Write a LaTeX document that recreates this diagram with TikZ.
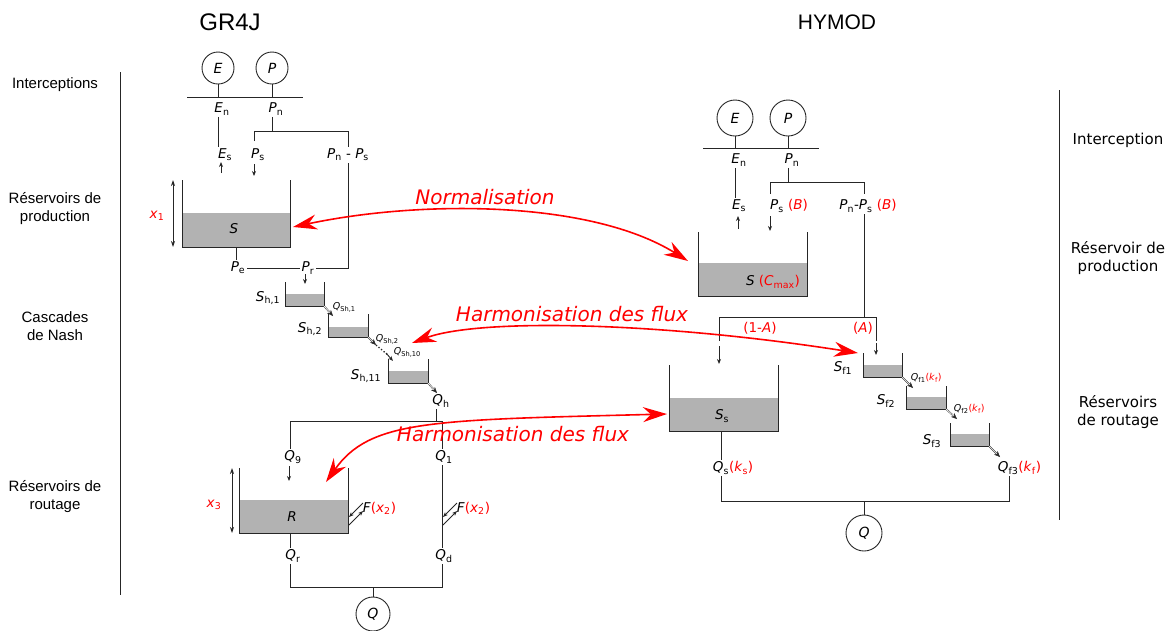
\documentclass[tikz,border=0pt]{standalone}
\usepackage{fontspec}
\setmainfont{DejaVu Sans}
\newfontfamily\arialfont{Liberation Sans}
\usetikzlibrary{arrows.meta}

% variable with upright index
\newcommand{\vx}[2]{\textit{#1}\textsubscript{#2}}
% open tank: x left, x right, y top, y water, y bottom
\newcommand{\tank}[5]{%
  \fill[gray!60] (#1,#5) rectangle (#2,#4);
  \draw (#1,#3) -- (#1,#5) -- (#2,#5) -- (#2,#3);}

\tikzset{
  lbl/.style={font=\fontsize{13.5}{15}\selectfont, inner sep=1.5pt},
  qlbl/.style={font=\fontsize{9.5}{11}\selectfont, inner sep=0.5pt, anchor=west},
  side/.style={font=\arialfont\fontsize{15}{18}\selectfont, align=center},
  sider/.style={font=\fontsize{15}{18}\selectfont, align=center},
  title/.style={font=\arialfont\fontsize{24}{26}\selectfont},
  redlbl/.style={red, font=\fontsize{20}{22}\selectfont\itshape},
  pool/.style={circle, draw, inner sep=0pt, font=\fontsize{14}{16}\selectfont\itshape},
  flow/.style={-{Stealth[length=5pt,width=4pt]}},
  dim/.style={{Stealth[length=6pt,width=4pt]}-{Stealth[length=6pt,width=4pt]}},
  casc/.style={double, double distance=0.7pt, line width=0.4pt, -{Stealth[length=6pt,width=5pt]}},
  redtip/.tip={Stealth[length=24pt,width=15pt,inset=8pt]},
  link/.style={red, line width=1.6pt, redtip-redtip},
}

\begin{document}
\begin{tikzpicture}[x=1pt, y=-1pt, line width=0.9pt, draw=black!85]
\useasboundingbox (0,0) rectangle (1167,630);

% titles and side labels
\node[title] (gr) at (230,22) {GR4J};
\node[title, font=\arialfont\fontsize{21}{24}\selectfont] (hy) at (837,22) {HYMOD};
\node[side] (l1) at (55,85) {Interceptions};
\node[side] (l2) at (55,209) {Réservoirs de\\production};
\node[side] (l3) at (55,326) {Cascades\\de Nash};
\node[side] (l4) at (55,497) {Réservoirs de\\routage};
\draw (120,72) -- (120,595);
\node[sider] (r1) at (1118,140) {Interception};
\node[sider] (r2) at (1118,258) {Réservoir de\\production};
\node[sider] (r3) at (1118,412) {Réservoirs\\de routage};
\draw (1059,90) -- (1059,520);

% GR4J interception
\node[pool, minimum size=32pt] (gE) at (218,68) {E};
\node[pool, minimum size=32pt] (gP) at (272,68) {P};
\draw (187,97) -- (303,97);
\draw (gE.south) -- (gE |- 0,97);
\draw (gP.south) -- (gP |- 0,97);
\node[lbl] (gEn) at (222,109) {\vx{E}{n}};
\node[lbl] (gPn) at (276,109) {\vx{P}{n}};
\node[lbl] (gEs) at (225,155) {\vx{E}{s}};
\node[lbl] (gPs) at (258,155) {\vx{P}{s}};
\node[lbl] (gPnPs) at (348,155) {\vx{P}{n} - \vx{P}{s}};
\draw (gE |- gEn.south) -- (gE |- gEs.north);
\draw (gP |- gPn.south) -- (gP |- 0,131);
\draw (254,141) |- (348,131) -- (gPnPs.north);
\draw[flow] (221,173) -- (221,162);
\draw[flow] (254,164) -- (254,176);

% GR4J production store
\tank{182}{290}{180}{213}{247}
\node[lbl] (gS) at (234,229) {\textit{S}};
\draw[dim] (173,180) -- (173,247);
\node[lbl, red] (gx1) at (157,216) {\vx{x}{1}};
\node[lbl] (gPe) at (238,268) {\vx{P}{e}};
\node[lbl] (gPr) at (308,268) {\vx{P}{r}};
\draw (236,247) -- (gPe.north -| 236,0);
\draw (gPe.east) -- (gPr.west);
\draw (gPr.east) -| (gPnPs.south);
\draw[flow] (305,274) -- (305,284);

% Nash cascade
\tank{285}{324}{282}{294}{306}
\node[lbl] (gSh1) at (268,298) {\vx{S}{h,1}};
\draw[casc] (324,306) -- (333,316);
\node[qlbl] (gQ1s) at (332,307) {\vx{Q}{Sh,1}};
\tank{328}{368}{314}{327}{337}
\node[lbl] (gSh2) at (310,329) {\vx{S}{h,2}};
\draw[casc] (368,337) -- (376,345);
\node[qlbl] (gQ2s) at (375,339) {\vx{Q}{Sh,2}};
\draw[dotted, line width=1.3pt] (376,345) -- (388,355);
\draw[flow] (386,353) -- (393,361);
\node[qlbl] (gQ10s) at (393,352) {\vx{Q}{Sh,10}};
\tank{388}{428}{359}{371}{383}
\node[lbl] (gSh11) at (366,376) {\vx{S}{h,11}};
\draw[casc] (428,383) -- (437,393);
\node[lbl] (gQh) at (441,401) {\vx{Q}{h}};

% GR4J routing
\node[lbl] (gQ9) at (293,457) {\vx{Q}{9}};
\node[lbl] (gQ1) at (444,457) {\vx{Q}{1}};
\draw (gQh.south -| 436,0) -- (436,421);
\draw (gQ9.north -| 290,0) |- (442,421) -- (gQ1.north -| 442,0);
\draw[flow] (289,466) -- (289,481);
\tank{239}{348}{468}{500}{533}
\node[lbl] (gR) at (292,517) {\textit{R}};
\draw[dim] (232,468) -- (232,533);
\node[lbl, red] (gx3) at (214,505) {\vx{x}{3}};
\draw[flow] (363,503) -- (349,517);
\draw[flow] (349,525) -- (363,511);
\node[lbl, anchor=west] (gF1) at (361,508) {\textit{F}\textcolor{red}{(\vx{x}{2})}};
\node[lbl] (gQd) at (444,556) {\vx{Q}{d}};
\draw (gQ1.south -| 442,0) -- (gQd.north -| 442,0);
\draw[flow] (457,503) -- (443,517);
\draw[flow] (443,525) -- (457,511);
\node[lbl, anchor=west] (gF2) at (455,508) {\textit{F}\textcolor{red}{(\vx{x}{2})}};
\node[lbl] (gQr) at (293,556) {\vx{Q}{r}};
\draw (290,533) -- (gQr.north -| 290,0);
\node[pool, minimum size=34pt] (gQ) at (373,614) {Q};
\draw (gQr.south -| 290,0) |- (442,587) -- (gQd.south -| 442,0);
\draw (gQ.north) -- (gQ |- 0,587);

% HYMOD interception
\node[pool, minimum size=36pt] (hE) at (735,118) {E};
\node[pool, minimum size=36pt] (hP) at (788,118) {P};
\draw (703,148) -- (819,148);
\draw (hE.south) -- (hE |- 0,148);
\draw (hP.south) -- (hP |- 0,148);
\node[lbl] (hEn) at (739,160) {\vx{E}{n}};
\node[lbl] (hPn) at (792,160) {\vx{P}{n}};
\node[lbl] (hEs) at (739,206) {\vx{E}{s}};
\node[lbl] (hPs) at (789,206) {\vx{P}{s} \textcolor{red}{(\textit{B})}};
\node[lbl] (hPnPs) at (868,206) {\vx{P}{n}-\vx{P}{s} \textcolor{red}{(\textit{B})}};
\draw (hE |- hEn.south) -- (hE |- hEs.north);
\draw (hP |- hPn.south) -- (hP |- 0,182);
\draw (770,194) |- (864,182) -- (864,194);
\draw[flow] (738,229) -- (738,216);
\draw[flow] (770,216) -- (770,231);

% HYMOD production store
\tank{698}{807}{232}{263}{296}
\node[lbl] (hS) at (773,282) {\textit{S} \textcolor{red}{(\vx{C}{max})}};
\draw (hPnPs.south -| 864,0) -- (864,317);
\draw (719,341) |- (876,317) -- (876,341);
\draw[flow] (719,346) -- (719,364);
\draw[flow] (876,343) -- (876,355);
\node[lbl, red] (h1A) at (760,328) {(1-\textit{A})};
\node[lbl, red] (hA) at (863,328) {(\textit{A})};

% HYMOD slow store
\tank{669}{778}{365}{398}{431}
\node[lbl] (hSs) at (722,416) {\vx{S}{s}};
\node[lbl, anchor=west] (hQs) at (711,468) {\vx{Q}{s}\textcolor{red}{(\vx{k}{s})}};
\draw (721,431) -- (hQs.north -| 721,0);

% HYMOD fast cascade
\tank{863}{902}{353}{365}{377}
\node[lbl] (hSf1) at (843,368) {\vx{S}{f1}};
\draw[casc] (902,377) -- (913,388);
\node[qlbl] (hQf1) at (910,378) {\vx{Q}{f1}\textcolor{red}{(\vx{k}{f})}};
\tank{906}{946}{386}{397}{409}
\node[lbl] (hSf2) at (886,401) {\vx{S}{f2}};
\draw[casc] (946,409) -- (957,419);
\node[qlbl] (hQf2) at (953,409) {\vx{Q}{f2}\textcolor{red}{(\vx{k}{f})}};
\tank{950}{989}{423}{434}{446}
\node[lbl] (hSf3) at (932,441) {\vx{S}{f3}};
\draw[casc] (989,446) -- (1000,457);
\node[lbl, anchor=west] (hQf3) at (996,468) {\vx{Q}{f3}\textcolor{red}{(\vx{k}{f})}};

% HYMOD outlet
\node[pool, minimum size=36pt] (hQ) at (864,533) {Q};
\draw (hQs.south -| 721,0) |- (1009,501) -- (hQf3.south -| 1009,0);
\draw (hQ.north) -- (hQ |- 0,501);

% links between the two models
\draw[link] (293,227) .. controls (420,200) and (590,200) .. (688,261);
\node[redlbl] (nrm) at (485,197) {Normalisation};
\draw[link] (412,343) .. controls (480,318) and (660,322) .. (858,353);
\node[redlbl] (hf1) at (572,314) {Harmonisation des flux};
\draw[link] (667,414) .. controls (430,420) and (370,420) .. (326,482);
\node[redlbl] (hf2) at (513,434) {Harmonisation des flux};
\end{tikzpicture}
\end{document}
